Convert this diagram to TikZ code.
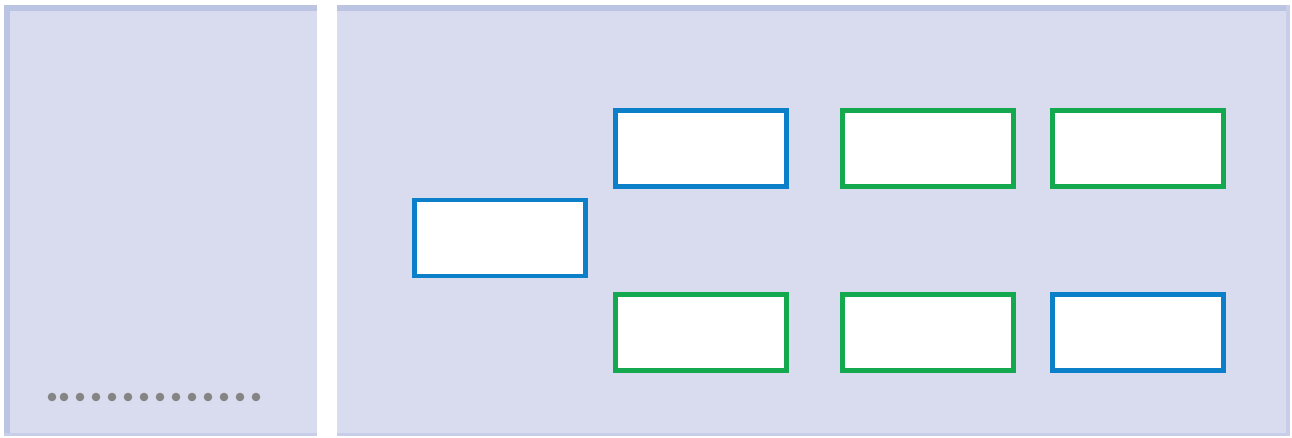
\documentclass[tikz,border=0pt]{standalone}
\definecolor{panelfill}{HTML}{D9DCEF}
\definecolor{paneledge}{HTML}{BCC4E4}
\definecolor{boxblue}{HTML}{0B7FC7}
\definecolor{boxgreen}{HTML}{14A84F}
\definecolor{dotgray}{HTML}{858585}
\tikzset{cell/.style={draw, fill=white, line width=0.09cm, minimum width=3.43cm, minimum height=1.53cm, inner sep=0pt},
         bluecell/.style={cell, draw=boxblue},
         greencell/.style={cell, draw=boxgreen}}
\begin{document}
\begin{tikzpicture}[x=0.02cm, y=-0.02cm]
  \useasboundingbox[fill=white] (0,0) rectangle (1292,438);
  % panels
  \fill[panelfill] (4,5) rectangle (317,436);
  \fill[paneledge] (4,5) rectangle (317,11);   \fill[paneledge] (4,5) rectangle (10,436);
  \fill[paneledge!60!panelfill] (4,433) rectangle (317,436);
  \fill[panelfill] (337,5) rectangle (1290,436);
  \fill[paneledge] (337,5) rectangle (1290,11);
  \fill[paneledge!60!panelfill] (1286,5) rectangle (1290,436);
  \fill[paneledge!60!panelfill] (337,433) rectangle (1290,436);
  % dots
  \foreach \px [count=\i] in {52,64,80,96,112,128,144,160,176,192,208,224,240,256}
    \fill[dotgray] (\px,397) circle (4.3) coordinate (dot\i);
  % cells
  \node[bluecell]  (root)  at (500,238) {};
  \node[bluecell]  (topA)  at (701,148.5) {};
  \node[greencell] (topB)  at (928,148.5) {};
  \node[greencell] (topC)  at (1138,148.5) {};
  \node[greencell] (botA)  at (701,332.5) {};
  \node[greencell] (botB)  at (928,332.5) {};
  \node[bluecell]  (botC)  at (1138,332.5) {};
\end{tikzpicture}
\end{document}
